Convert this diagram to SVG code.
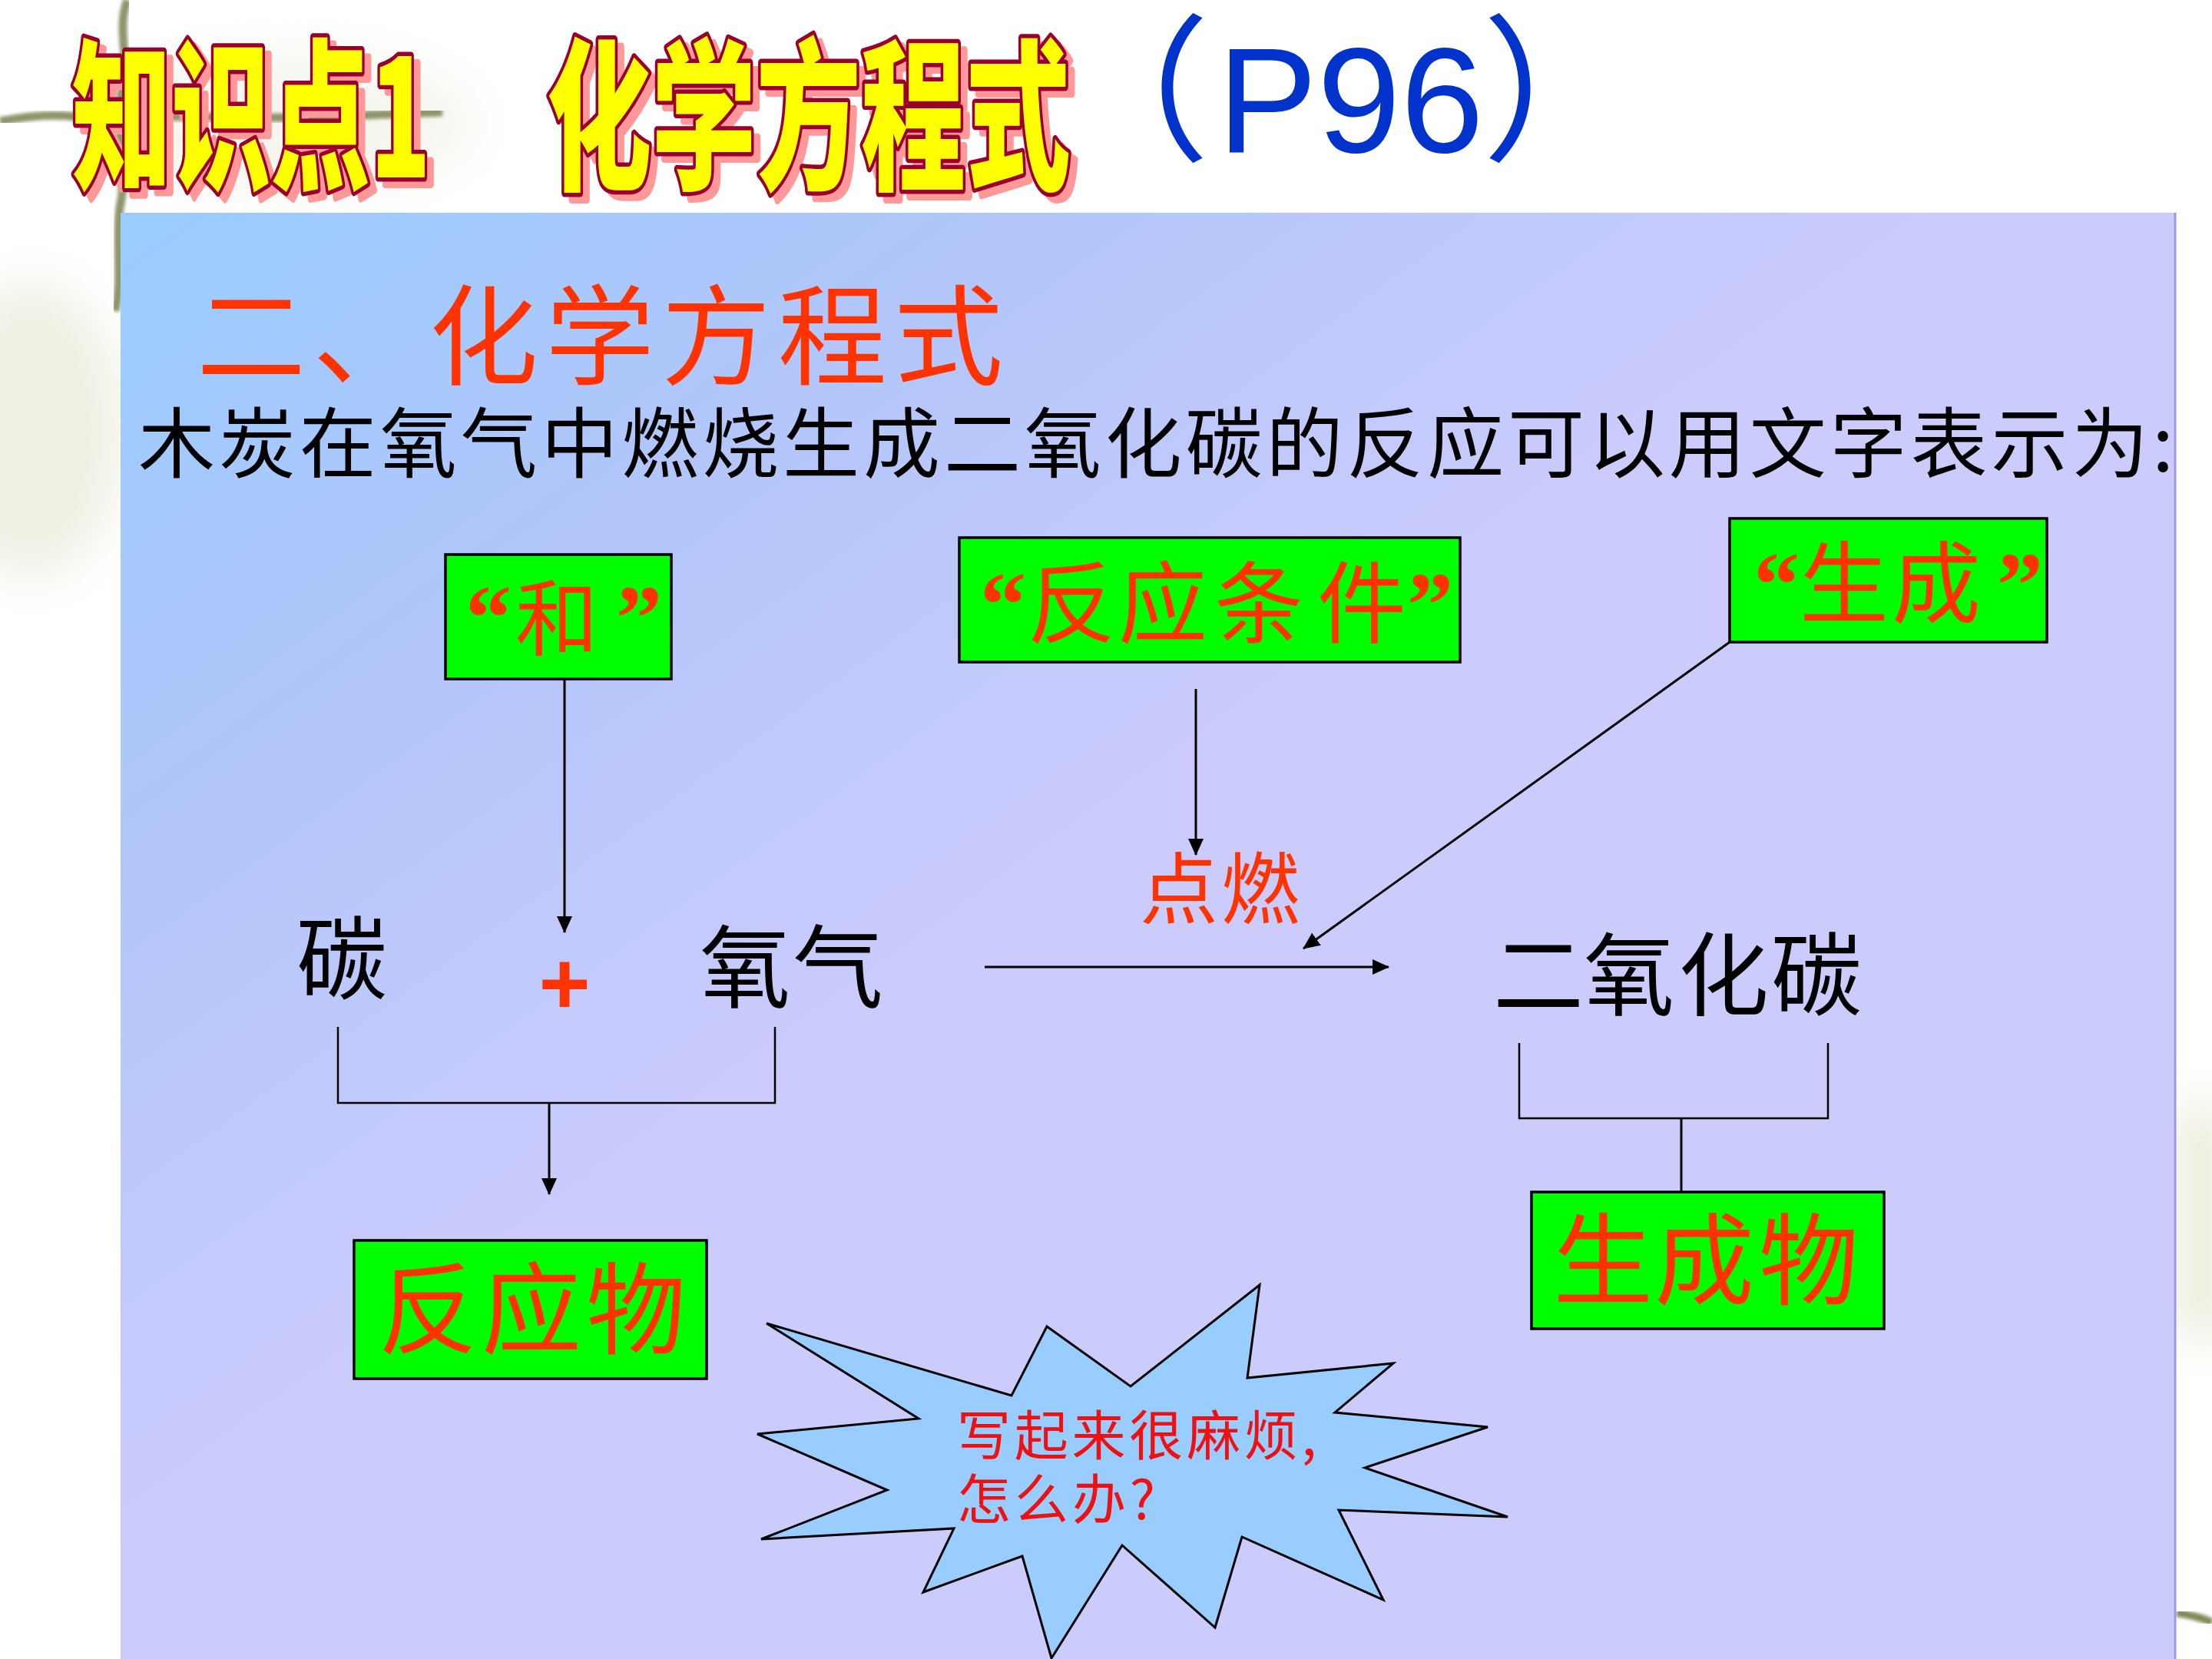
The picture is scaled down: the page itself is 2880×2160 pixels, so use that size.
<svg xmlns="http://www.w3.org/2000/svg" width="2880" height="2160" viewBox="0 0 2880 2160">
<defs>
  <linearGradient id="panelGrad" gradientUnits="userSpaceOnUse" x1="157" y1="277" x2="984" y2="1422">
    <stop offset="0" stop-color="#99ccff"/>
    <stop offset="0.5" stop-color="#b3c6fa"/>
    <stop offset="1" stop-color="#cbcbfc"/>
  </linearGradient>
  <filter id="blur" x="-50%" y="-50%" width="200%" height="200%">
    <feGaussianBlur stdDeviation="30"/>
  </filter>
  <filter id="soft" x="-10%" y="-10%" width="120%" height="120%">
    <feGaussianBlur stdDeviation="2"/>
  </filter>
  <marker id="arrow" markerUnits="userSpaceOnUse" markerWidth="22" markerHeight="20" refX="21" refY="10" orient="auto">
    <path d="M0,0 L22,10 L0,20 Z" fill="#000"/>
  </marker>
</defs>
<style>
  .cjk { font-family: "Noto Sans CJK SC", sans-serif; }
  .wordart { font-family: "Noto Sans CJK SC", sans-serif; font-weight: 900; font-size: 212px; }
  .shadow { fill: #ff9999; stroke: #ff9999; stroke-width: 10px; stroke-linejoin: round; }
  .face { fill: #ffff00; stroke: #99002b; stroke-width: 11px; stroke-linejoin: round; paint-order: stroke; }
  .box { fill: #00ff00; stroke: #000; stroke-width: 3.5px; }
  .boxtxt { font-family: "Noto Sans CJK SC", sans-serif; fill: #ff3300; }
  .q { font-family: "Liberation Serif", serif; font-weight: bold; font-size: 120px; fill: #ff3300; }
  .main { font-family: "Noto Sans CJK SC", sans-serif; fill: #000; font-size: 118px; }
  .conn { stroke: #000; stroke-width: 3px; fill: none; }
  .thin { stroke: #000; stroke-width: 2.5px; fill: none; }
</style>

<!-- background -->
<rect x="0" y="0" width="2880" height="2160" fill="#ffffff"/>
<g id="decoration">
  <ellipse cx="40" cy="560" rx="120" ry="190" fill="#e2e2cc" filter="url(#blur)" opacity="0.55"/>
  <ellipse cx="380" cy="160" rx="240" ry="90" fill="#f0f0e4" filter="url(#blur)" opacity="0.6"/>
  <rect x="2836" y="1440" width="60" height="300" fill="#e0e0c4" filter="url(#blur)" opacity="0.7"/>
  <path d="M0,158 C40,150 70,148 100,152 C150,158 200,150 260,152 C360,156 460,150 576,146" stroke="#8e956a" stroke-width="11" fill="none" filter="url(#soft)"/>
  <path d="M166,0 C150,40 172,80 158,120 C148,170 168,220 156,270 C150,320 160,360 150,405" stroke="#8e956a" stroke-width="11" fill="none" filter="url(#soft)"/>
  <path d="M2834,2100 C2850,2102 2865,2106 2880,2112" stroke="#7f8a55" stroke-width="10" fill="none" filter="url(#soft)"/>
</g>

<!-- panel -->
<rect id="panel" x="157" y="277" width="2675" height="1890" fill="url(#panelGrad)"/>
<line x1="2832" y1="277" x2="2832" y2="2160" stroke="#9a9ae0" stroke-width="3"/>

<!-- title -->
<g id="title">
  <g transform="translate(103,240) scale(0.61,1)"><text class="wordart shadow" x="0" y="0">知识点1</text></g>
  <g transform="translate(94,231) scale(0.61,1)"><text class="wordart face" x="0" y="0">知识点1</text></g>
  <g transform="translate(721,240) scale(0.643,1)"><text class="wordart shadow" x="0" y="0">化学方程式</text></g>
  <g transform="translate(712,231) scale(0.643,1)"><text class="wordart face" x="0" y="0">化学方程式</text></g>
  <text class="cjk" x="1370" y="192" font-size="205" fill="#0033cc">（</text>
  <text x="1585" y="198" font-family="Liberation Sans, Arial, sans-serif" font-size="195" fill="#0033cc">P96</text>
  <text class="cjk" x="1930" y="192" font-size="205" fill="#0033cc">）</text>
</g>

<!-- subheading and sentence -->
<text id="subheading" class="cjk" x="256" y="490" font-size="142" fill="#ff3300" textLength="1050">二、化学方程式</text>
<text id="sentence" class="cjk" x="180" y="614" font-size="100" fill="#000" textLength="2650">木炭在氧气中燃烧生成二氧化碳的反应可以用文字表示为:</text>

<!-- connectors -->
<g id="connectors">
  <line class="conn" x1="735" y1="884" x2="735" y2="1214" marker-end="url(#arrow)"/>
  <line class="conn" x1="1557" y1="897" x2="1557" y2="1113" marker-end="url(#arrow)"/>
  <line class="conn" x1="1282" y1="1259" x2="1808" y2="1259" marker-end="url(#arrow)"/>
  <line class="conn" x1="2252" y1="836" x2="1697" y2="1235" marker-end="url(#arrow)"/>
  <path class="thin" d="M440,1337 V1436 H1009 V1337"/>
  <line class="conn" x1="715" y1="1436" x2="715" y2="1555" marker-end="url(#arrow)"/>
  <path class="thin" d="M1978,1358 V1456 H2380 V1358"/>
  <line class="conn" x1="2189" y1="1456" x2="2189" y2="1552"/>
</g>

<!-- nodes -->
<g id="node-he">
  <rect class="box" x="580" y="722" width="294" height="162"/>
  <text class="boxtxt" y="845"><tspan class="q" x="606">“</tspan><tspan x="671" font-size="108">和</tspan><tspan class="q" x="802">”</tspan></text>
</g>
<g id="node-condition">
  <rect class="box" x="1249" y="700" width="652" height="162"/>
  <text class="boxtxt" y="828"><tspan class="q" x="1276">“</tspan><tspan x="1337 1456 1581 1715" font-size="116">反应条件</tspan><tspan class="q" x="1832">”</tspan></text>
</g>
<g id="node-sheng">
  <rect class="box" x="2252" y="675" width="413" height="161"/>
  <text class="boxtxt" y="802"><tspan class="q" x="2283">“</tspan><tspan x="2343 2463" font-size="116">生成</tspan><tspan class="q" x="2600">”</tspan></text>
</g>
<g id="node-reactant">
  <rect class="box" x="461" y="1615" width="459" height="180"/>
  <text class="boxtxt" x="492 627 763" y="1752" font-size="130">反应物</text>
</g>
<g id="node-product">
  <rect class="box" x="1994" y="1552" width="459" height="178"/>
  <text class="boxtxt" x="2022 2154 2290" y="1688" font-size="130">生成物</text>
</g>

<g id="node-carbon"><text class="main" x="386" y="1292" font-size="118">碳</text></g>
<g id="node-plus"><text x="735" y="1320" text-anchor="middle" font-family="Liberation Sans, Arial, sans-serif" font-weight="bold" font-size="115" fill="#ff3300">+</text></g>
<g id="node-oxygen"><text class="main" x="911 1032" y="1303" font-size="118">氧气</text></g>
<g id="node-co2"><text class="main" x="1944 2062 2185 2306" y="1313" font-size="122">二氧化碳</text></g>
<g id="node-ignite"><text class="cjk" x="1484 1590" y="1195" font-size="102" fill="#ff3300">点燃</text></g>

<g id="node-burst">
  <polygon points="998,1723 1317,1817 1363,1727 1472,1805 1640,1673 1624,1794 1814,1775 1738,1839 1937,1858 1777,1911 1963,1975 1743,1966 1801,2083 1617,2001 1582,2119 1461,2012 1369,2159 1331,2026 1202,2073 1242,1990 991,2004 1155,1940 986,1867 1196,1847" fill="#99ccff" stroke="#000" stroke-width="3" stroke-linejoin="miter"/>
  <text class="cjk" x="1246" y="1895" font-size="70" fill="#ee1111" textLength="468">写起来很麻烦,</text>
  <text class="cjk" x="1246" y="1978" font-size="70" fill="#ee1111" textLength="258">怎么办?</text>
</g>
</svg>
